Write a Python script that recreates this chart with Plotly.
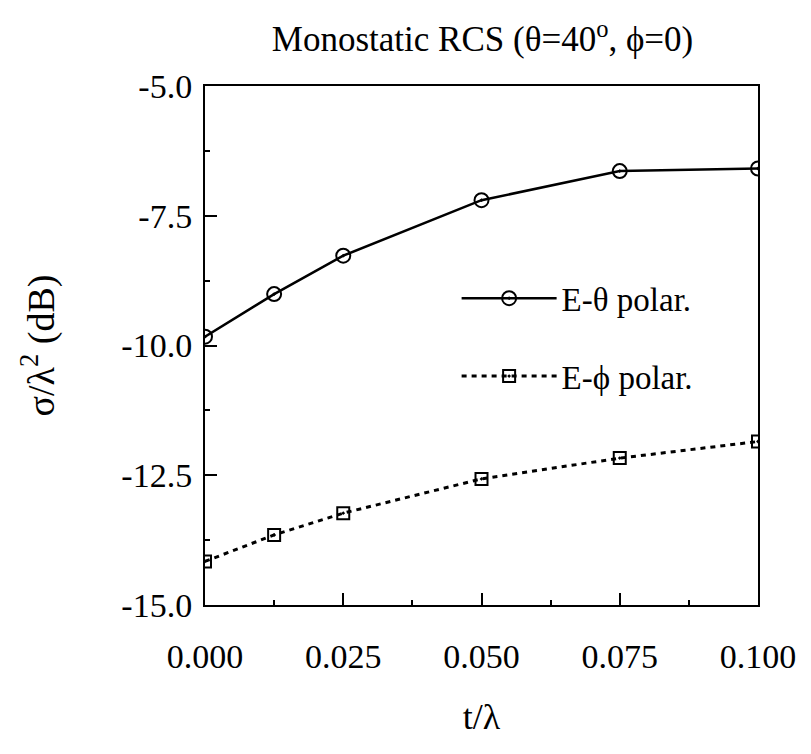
import plotly.graph_objects as go

t_lambda = [0.0, 0.0125, 0.025, 0.05, 0.075, 0.1]
e_theta = [-9.83, -9.01, -8.27, -7.20, -6.64, -6.59]
e_phi = [-14.16, -13.65, -13.23, -12.57, -12.17, -11.85]

x_ticks = [0.0, 0.025, 0.05, 0.075, 0.1]
x_ticklabels = ["0.000", "0.025", "0.050", "0.075", "0.100"]
y_ticks = [-15.0, -12.5, -10.0, -7.5, -5.0]
y_ticklabels = ["-15.0", "-12.5", "-10.0", "-7.5", "-5.0"]

FONT = "Liberation Serif, Times New Roman, Times, serif"

fig = go.Figure()
fig.add_trace(go.Scatter(
    x=t_lambda, y=e_theta, mode="lines+markers", name="E-θ polar.", legendgroup="a",
    line=dict(color="black", width=2.5),
    marker=dict(symbol="circle-open-dot", size=14, color="black", line=dict(width=2)),
))
fig.add_trace(go.Scatter(
    x=t_lambda, y=e_phi, mode="lines+markers", name="E-ϕ polar.", legendgroup="b",
    line=dict(color="black", width=3, dash="5px,5px"),
    marker=dict(symbol="square-open-dot", size=12, color="black", line=dict(width=2)),
))

axis_common = dict(
    showline=True, linecolor="black", linewidth=2, mirror=True,
    ticks="inside", ticklen=12, tickwidth=2, tickcolor="black",
    showgrid=False, zeroline=False,
    tickfont=dict(family=FONT, size=34, color="black"),
)

fig.update_xaxes(
    range=[0, 0.1], tickvals=x_ticks, ticktext=x_ticklabels,
    minor=dict(ticks="inside", ticklen=5, tickwidth=1.5, tickcolor="black", dtick=0.0125),
    title=dict(text="t/λ", font=dict(family=FONT, size=36, color="black"), standoff=30),
    ticklabelstandoff=20,
    **axis_common,
)
fig.update_yaxes(
    range=[-15, -5], tickvals=y_ticks, ticktext=y_ticklabels,
    minor=dict(ticks="inside", ticklen=5, tickwidth=1.5, tickcolor="black", dtick=1.25, tick0=-15),
    title=dict(text="σ/λ<sup>2</sup> (dB)", font=dict(family=FONT, size=38, color="black"), standoff=55),
    ticklabelstandoff=4,
    **axis_common,
)

fig.update_layout(
    width=811, height=754,
    margin=dict(l=205, r=53, t=86, b=149),
    paper_bgcolor="white", plot_bgcolor="white",
    title=dict(text="Monostatic RCS (θ=40<sup>o</sup>, ϕ=0)", x=0.595, xanchor="center",
               y=0.948, yanchor="middle",
               font=dict(family=FONT, size=35, color="black")),
    legend=dict(x=0.455, y=0.645, xanchor="left", yanchor="top",
                bgcolor="rgba(0,0,0,0)", itemwidth=95, tracegroupgap=32,
                font=dict(family=FONT, size=33, color="black")),
    showlegend=True,
)

fig.write_html("out.html")
